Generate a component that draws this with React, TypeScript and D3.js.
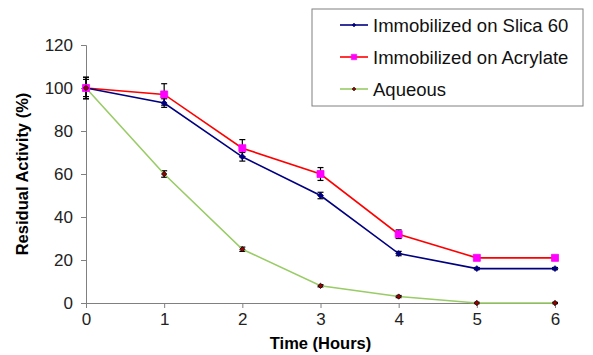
import React, { useRef, useEffect } from 'react';
import * as d3 from 'd3';

const hours = [0, 1, 2, 3, 4, 5, 6];
const silica = [100, 93, 68, 50, 23, 16, 16];
const silicaErr = [5, 2, 2, 1.5, 1, 0.5, 0.5];
const acrylate = [100, 97, 72, 60, 32, 21, 21];
const acrylateErr = [4, 5, 4, 3, 2, 1, 1];
const aqueous = [100, 60, 25, 8, 3, 0, 0];
const aqueousErr = [5, 1.5, 1, 0.5, 0.5, 0.3, 0.3];
const yTicks = [0, 20, 40, 60, 80, 100, 120];

interface Series {
  label: string;
  values: number[];
  errors: number[];
  line: string;
  marker: 'diamond' | 'square';
  markerFill: string;
  markerStroke: string;
  markerSize: number;
}

const series: Series[] = [
  { label: 'Immobilized on Slica 60', values: silica, errors: silicaErr, line: '#000080', marker: 'diamond', markerFill: '#000080', markerStroke: '#000080', markerSize: 22 },
  { label: 'Immobilized on Acrylate', values: acrylate, errors: acrylateErr, line: '#ff0000', marker: 'square', markerFill: '#ff00ff', markerStroke: '#ff00ff', markerSize: 49 },
  { label: 'Aqueous', values: aqueous, errors: aqueousErr, line: '#99cc66', marker: 'diamond', markerFill: '#990000', markerStroke: '#000000', markerSize: 18 },
];

const W = 593;
const H = 355;
const margin = { left: 86, right: 38, top: 45, bottom: 52 };

const symbolType = (m: string) => (m === 'square' ? d3.symbolSquare : (d3 as any).symbolDiamond2 || d3.symbolDiamond);

export default function App() {
  const svgRef = useRef<SVGSVGElement>(null);

  useEffect(() => {
    if (!svgRef.current) return;
    const svg = d3.select(svgRef.current);
    svg.selectAll('*').remove();

    const x = d3.scaleLinear().domain([0, 6]).range([margin.left, W - margin.right]);
    const y = d3.scaleLinear().domain([0, 120]).range([H - margin.bottom, margin.top]);
    const font = '"Liberation Sans", Arial, sans-serif';

    svg.append('rect').attr('width', W).attr('height', H).attr('fill', '#fff');

    // axes
    const yAxis = svg.append('g')
      .attr('transform', `translate(${margin.left},0)`)
      .call(d3.axisLeft(y).tickValues(yTicks).tickFormat(d3.format('d')).tickSize(5).tickPadding(8));
    const xAxis = svg.append('g')
      .attr('transform', `translate(0,${H - margin.bottom})`)
      .call(d3.axisBottom(x).tickValues(hours).tickFormat(d3.format('d')).tickSize(5).tickPadding(5));
    [yAxis, xAxis].forEach(a => {
      a.select('.domain').attr('stroke', '#808080');
      a.selectAll('.tick line').attr('stroke', '#808080');
      a.selectAll('.tick text')
        .attr('font-family', font)
        .attr('font-size', '17px')
        .attr('fill', '#222');
    });

    svg.append('text')
      .attr('x', (margin.left + W - margin.right) / 2)
      .attr('y', 349)
      .attr('text-anchor', 'middle')
      .attr('font-family', font)
      .attr('font-weight', 'bold')
      .attr('font-size', '16.5px')
      .text('Time (Hours)');

    svg.append('text')
      .attr('transform', `translate(28,${y(60)}) rotate(-90)`)
      .attr('text-anchor', 'middle')
      .attr('font-family', font)
      .attr('font-weight', 'bold')
      .attr('font-size', '16.5px')
      .text('Residual Activity (%)');

    const line = d3.line<number>().x((_, i) => x(hours[i])).y(d => y(d));

    // error bars
    series.forEach(s => {
      const g = svg.append('g');
      s.values.forEach((v, i) => {
        const e = s.errors[i];
        const cx = x(hours[i]);
        g.append('line').attr('x1', cx).attr('x2', cx).attr('y1', y(v - e)).attr('y2', y(v + e)).attr('stroke', '#000').attr('stroke-width', 1.2);
        [v - e, v + e].forEach(c => {
          g.append('line').attr('x1', cx - 3).attr('x2', cx + 3).attr('y1', y(c)).attr('y2', y(c)).attr('stroke', '#000').attr('stroke-width', 1.2);
        });
      });
    });

    // lines and markers
    series.slice().reverse().forEach(s => {
      svg.append('path')
        .attr('d', line(s.values))
        .attr('fill', 'none')
        .attr('stroke', s.line)
        .attr('stroke-width', 1.6);
    });
    series.forEach(s => {
      const sym = d3.symbol().type(symbolType(s.marker)).size(s.markerSize);
      svg.append('g').selectAll('path')
        .data(s.values)
        .enter()
        .append('path')
        .attr('d', sym)
        .attr('transform', (d, i) => `translate(${x(hours[i])},${y(d)})`)
        .attr('fill', s.markerFill)
        .attr('stroke', s.markerStroke)
        .attr('stroke-width', 0.8);
    });

    // legend
    const legend = svg.append('g').attr('transform', 'translate(312,9)');
    legend.append('rect')
      .attr('width', 271)
      .attr('height', 97)
      .attr('fill', '#fff')
      .attr('stroke', '#808080');
    const items = legend.selectAll('.legend-item')
      .data(series)
      .enter()
      .append('g')
      .attr('class', 'legend-item')
      .attr('transform', (d, i) => `translate(0,${16 + i * 32})`);
    items.append('line')
      .attr('x1', 28).attr('x2', 56)
      .attr('stroke', d => d.line)
      .attr('stroke-width', 1.6);
    items.append('path')
      .attr('d', d => d3.symbol().type(symbolType(d.marker)).size(d.marker === 'square' ? 30 : 10)())
      .attr('transform', 'translate(42,0)')
      .attr('fill', d => d.markerFill)
      .attr('stroke', d => d.markerStroke)
      .attr('stroke-width', 0.5);
    items.append('text')
      .attr('x', 61)
      .attr('y', 6.5)
      .attr('font-family', font)
      .attr('font-size', '18.5px')
      .attr('fill', '#111')
      .text(d => d.label);
  }, []);

  return (
    <div style={{ position: 'absolute', left: 0, top: 0 }}>
      <svg ref={svgRef} width={W} height={H} style={{ display: 'block' }}></svg>
    </div>
  );
}
